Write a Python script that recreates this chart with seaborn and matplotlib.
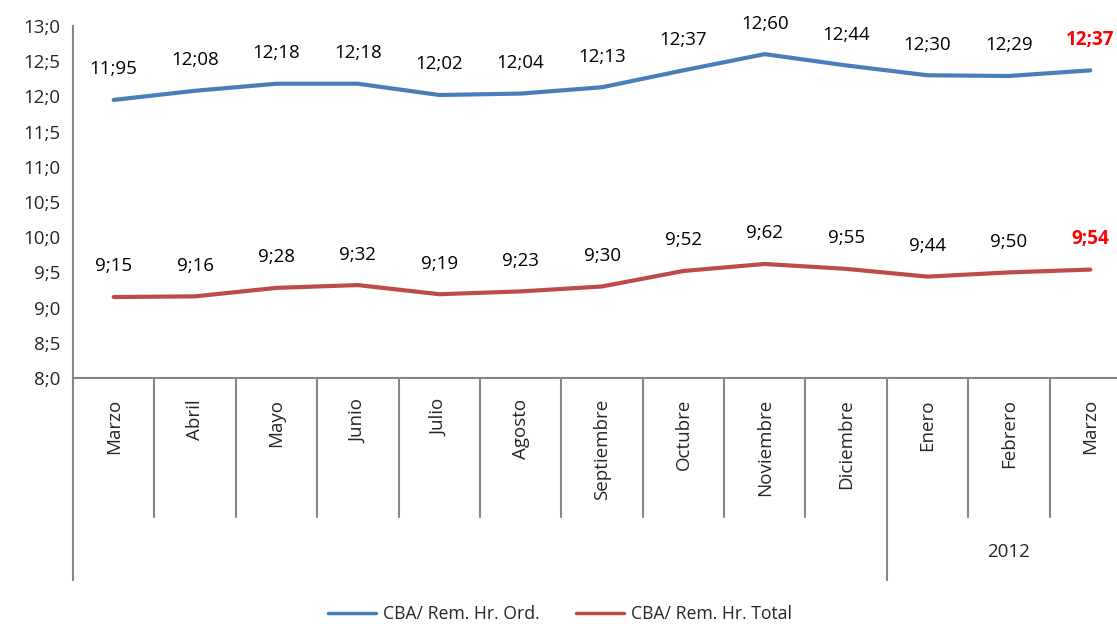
import pandas as pd
import seaborn as sns
import matplotlib.pyplot as plt
import matplotlib.transforms as mtransforms

# -------------------------
# Data
# -------------------------
months = ["Marzo", "Abril", "Mayo", "Junio", "Julio", "Agosto", "Septiembre",
          "Octubre", "Noviembre", "Diciembre", "Enero", "Febrero", "Marzo"]
ord_values = [11.95, 12.08, 12.18, 12.18, 12.02, 12.04, 12.13,
              12.37, 12.60, 12.44, 12.30, 12.29, 12.37]
total_values = [9.15, 9.16, 9.28, 9.32, 9.19, 9.23, 9.30,
                9.52, 9.62, 9.55, 9.44, 9.50, 9.54]
series_names = ["CBA/ Rem. Hr. Ord.", "CBA/ Rem. Hr. Total"]
year_label = "2012"
year_start = 10  # first month of 2012
y_ticks = [8.0, 8.5, 9.0, 9.5, 10.0, 10.5, 11.0, 11.5, 12.0, 12.5, 13.0]

df = pd.DataFrame({
    "pos": list(range(len(months))) * 2,
    "valor": ord_values + total_values,
    "serie": [series_names[0]] * len(months) + [series_names[1]] * len(months),
})

# -------------------------
# Plot
# -------------------------
sns.set_style("white")
plt.rcParams["font.family"] = ["Open Sans", "DejaVu Sans"]

grey = "#868686"
fs = 13.5
colors = {series_names[0]: "#4A7EBB", series_names[1]: "#BE4B48"}

fig = plt.figure(figsize=(11.17, 6.24), dpi=100)
ax = fig.add_axes([73 / 1117, 246 / 624, 1058 / 1117, 352 / 624])

sns.lineplot(data=df, x="pos", y="valor", hue="serie", palette=colors,
             linewidth=3, ax=ax, legend=False)

ax.set_xlim(-0.5, len(months) - 0.5)
ax.set_ylim(8.0, 13.0)
ax.set_yticks(y_ticks)
ax.set_yticklabels([f"{v:.1f}".replace(".", ";") for v in y_ticks], fontsize=fs)
ax.tick_params(axis="y", direction="out", length=5, color=grey, width=1.2, pad=4)
ax.set_xticks([])
ax.set_xlabel("")
ax.set_ylabel("")

for side in ["top", "right"]:
    ax.spines[side].set_visible(False)
for side in ["left", "bottom"]:
    ax.spines[side].set_color(grey)
    ax.spines[side].set_linewidth(1.5)

# data labels
n = len(months)
for vals in [ord_values, total_values]:
    for i, v in enumerate(vals):
        last = i == n - 1
        ax.annotate(f"{v:.2f}".replace(".", ";"), (i, v), xytext=(0, 22),
                    textcoords="offset points", ha="center", va="center",
                    fontsize=fs, color="#FF0000" if last else "black",
                    fontweight="bold" if last else "normal")

# category axis: separators, month names, year group
trans = mtransforms.blended_transform_factory(ax.transData, ax.transAxes)
short_drop = -(517 - 378) / 352
long_drop = -(580 - 378) / 352
for i in range(n):
    x = i - 0.5
    drop = long_drop if i in (0, year_start) else short_drop
    ax.plot([x, x], [0, drop], transform=trans, color=grey, lw=1.5,
            clip_on=False)
    ax.text(i, -0.06, months[i], transform=trans, rotation=90,
            ha="center", va="top", fontsize=fs)
ax.text((year_start + n - 1) / 2, -(552 - 378) / 352, year_label,
        transform=trans, ha="center", va="center", fontsize=fs)

# legend
handles = [plt.Line2D([], [], color=colors[s], lw=2.5) for s in series_names]
fig.legend(handles, series_names, loc="center", ncol=2, frameon=False,
           bbox_to_anchor=(560 / 1117, 1 - 614 / 624), fontsize=12.7,
           handlelength=2.7, columnspacing=2.1, handletextpad=0.4)

fig.savefig("out.png", dpi=100)
